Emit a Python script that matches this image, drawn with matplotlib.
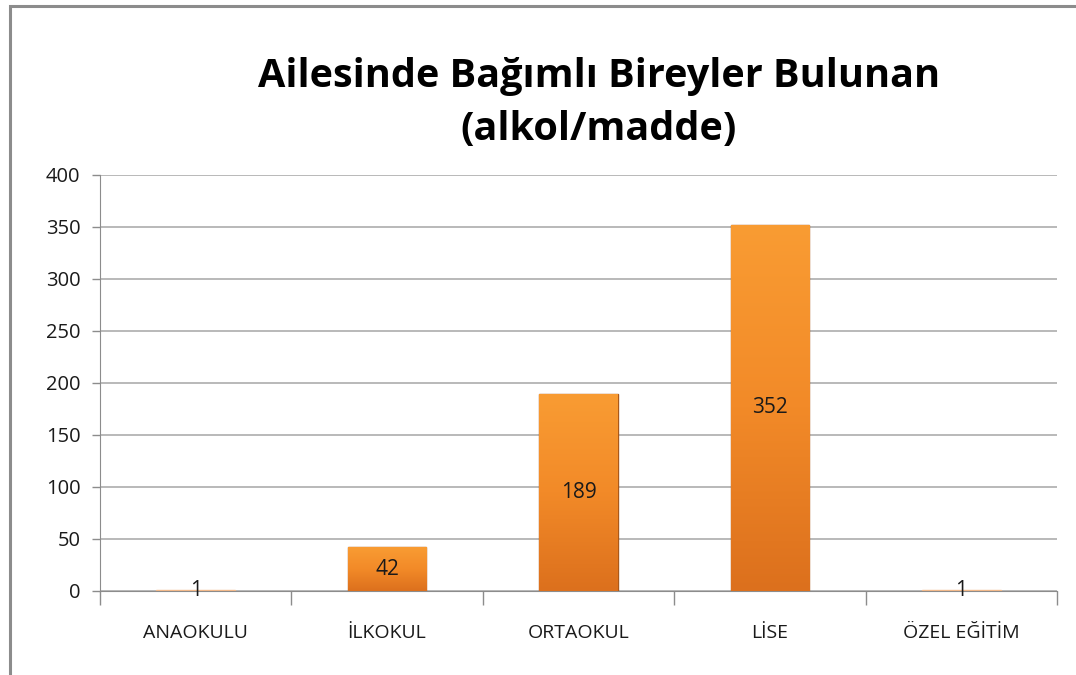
import matplotlib
matplotlib.use("Agg")
import matplotlib.pyplot as plt
from matplotlib.patches import Rectangle
from matplotlib.colors import LinearSegmentedColormap
import numpy as np

categories = ["ANAOKULU", "İLKOKUL", "ORTAOKUL", "LİSE", "ÖZEL EĞİTİM"]
values = [1, 42, 189, 352, 1]
yticks = [0, 50, 100, 150, 200, 250, 300, 350, 400]
title = "Ailesinde Bağımlı Bireyler Bulunan\n(alkol/madde)"

W, H = 1076, 675
fig = plt.figure(figsize=(W / 100, H / 100), dpi=100)
fig.patch.set_facecolor("white")

# outer chart frame (left and top visible)
fig.patches.append(Rectangle((10 / W, -0.05), 1.2, (H - 6) / H + 0.05,
                             transform=fig.transFigure, fill=False,
                             edgecolor="#8c8c8c", linewidth=2.2))

ax = fig.add_axes([100 / W, (H - 591) / H, (1057 - 100) / W, (591 - 175) / H])
x = np.arange(len(categories))
bars = ax.bar(x, values, width=0.41, color="#F08A24", edgecolor="#A9581A",
              linewidth=1.0, zorder=3)

# vertical gradient inside each bar
grad = np.linspace(0, 1, 256).reshape(-1, 1)
cmap = LinearSegmentedColormap.from_list("org", ["#DC701D", "#F28A28", "#F99C33"])
for b in bars:
    x0, y0 = b.get_x(), b.get_y()
    w, h = b.get_width(), b.get_height()
    if h < 5:
        b.set_facecolor("#F6C9A0")
        b.set_edgecolor("#F2B98A")
        continue
    im = ax.imshow(grad, cmap=cmap, aspect="auto", origin="lower",
                   extent=(x0, x0 + w, y0, y0 + h), zorder=3.5)
    im.set_clip_path(b)

for b, v in zip(bars, values):
    ax.text(b.get_x() + b.get_width() / 2, v / 2, str(v), ha="center",
            va="center", fontsize=15, family="Open Sans", color="#1a1a1a",
            zorder=5)

ax.set_xlim(-0.5, len(categories) - 0.5)
ax.set_ylim(0, 400)
ax.set_yticks(yticks)
ax.set_yticklabels([str(t) for t in yticks], fontsize=14.5, family="Open Sans",
                   color="#1a1a1a")
ax.set_xticks(x)
ax.set_xticklabels(categories, fontsize=14, family="Open Sans", color="#1a1a1a")
ax.tick_params(axis="x", length=0, pad=24)
ax.set_xticks(np.arange(len(categories) + 1) - 0.5, minor=True)
ax.tick_params(axis="x", which="minor", length=10, color="#8c8c8c", width=1)
ax.tick_params(axis="y", length=6, color="#8c8c8c", width=1, pad=8)

ax.grid(axis="y", color="#a6a6a6", linewidth=1.1, zorder=0)
ax.set_axisbelow(True)
for s in ["top", "right"]:
    ax.spines[s].set_visible(False)
ax.spines["left"].set_color("#8c8c8c")
ax.spines["bottom"].set_color("#8c8c8c")

fig.text(599 / W, 1 - 103 / H, title, ha="center", va="center",
         fontsize=28.5, fontweight="bold", family="Open Sans",
         linespacing=1.45, color="black")

fig.savefig("out.png", dpi=100)
